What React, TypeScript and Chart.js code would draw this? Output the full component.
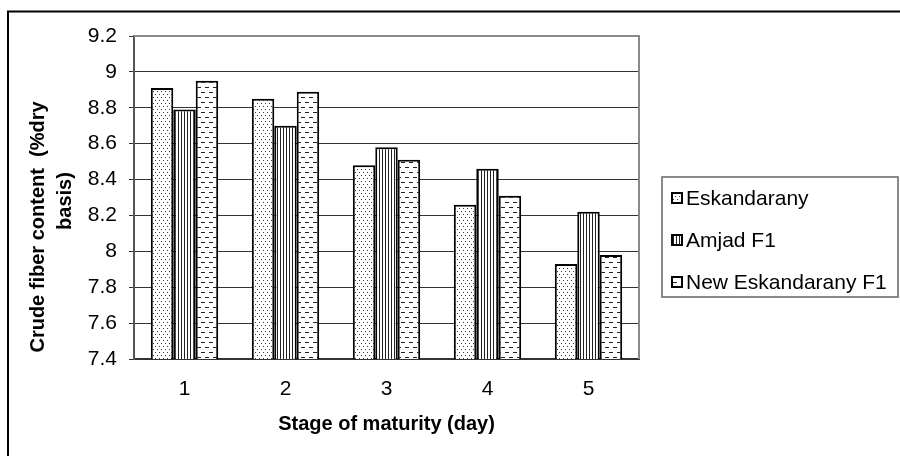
import React, { useEffect, useRef } from "react";
import { Chart, registerables } from "chart.js";

Chart.register(...registerables);

// Crude fiber content per maturity stage for three cultivars
const stages = ["1", "2", "3", "4", "5"];
const eskandarany = [8.91, 8.85, 8.48, 8.26, 7.93];
const amjadF1 = [8.79, 8.7, 8.58, 8.46, 8.22];
const newEskandaranyF1 = [8.95, 8.89, 8.51, 8.31, 7.98];
const seriesNames = ["Eskandarany", "Amjad F1", "New Eskandarany F1"];
const yTicks = [7.4, 7.6, 7.8, 8, 8.2, 8.4, 8.6, 8.8, 9, 9.2];
const yTitleLines = ["Crude fiber content  (%dry", "basis)"];
const xTitle = "Stage of maturity (day)";

const FONT = "'Liberation Sans', Arial, sans-serif";

function makePattern(w: number, h: number, draw: (g: CanvasRenderingContext2D) => void) {
  const c = document.createElement("canvas");
  c.width = w;
  c.height = h;
  const g = c.getContext("2d")!;
  g.fillStyle = "#ffffff";
  g.fillRect(0, 0, w, h);
  draw(g);
  return g.createPattern(c, "repeat")!;
}

export default function App() {
  const ref = useRef<HTMLCanvasElement | null>(null);

  useEffect(() => {
    const canvas = ref.current!;

    const dotFill = makePattern(4, 6, (g) => {
      g.fillStyle = "#3a3a3a";
      g.fillRect(1, 1, 1, 1);
      g.fillRect(3, 4, 1, 1);
    });
    const lineFill = makePattern(3, 1, (g) => {
      g.fillStyle = "#222222";
      g.fillRect(1, 0, 1, 1);
    });
    const dashFill = makePattern(8, 10, (g) => {
      g.fillStyle = "#222222";
      g.fillRect(1, 2, 4, 1);
      g.fillRect(5, 7, 3, 1);
      g.fillRect(0, 7, 1, 1);
    });
    const fills = [dotFill, lineFill, dashFill];

    const frame = {
      id: "frame",
      beforeDraw(chart: any) {
        const ctx = chart.ctx;
        ctx.save();
        ctx.fillStyle = "#ffffff";
        ctx.fillRect(0, 0, chart.width, chart.height);
        ctx.strokeStyle = "#000000";
        ctx.lineWidth = 2;
        ctx.beginPath();
        ctx.moveTo(8, chart.height);
        ctx.lineTo(8, 11.5);
        ctx.lineTo(chart.width, 11.5);
        ctx.stroke();
        ctx.restore();
      },
      afterDraw(chart: any) {
        const ctx = chart.ctx;
        const a = chart.chartArea;
        ctx.save();
        // plot area outline (top and right)
        ctx.strokeStyle = "#8a8a8a";
        ctx.lineWidth = 2;
        ctx.beginPath();
        ctx.moveTo(a.left, a.top);
        ctx.lineTo(a.right, a.top);
        ctx.lineTo(a.right, a.bottom);
        ctx.stroke();

        // axis titles
        ctx.fillStyle = "#000000";
        ctx.font = `bold 20px ${FONT}`;
        ctx.textAlign = "center";
        ctx.textBaseline = "middle";
        ctx.fillText(xTitle, (a.left + a.right) / 2, 424);
        ctx.save();
        ctx.translate(38, 227);
        ctx.rotate(-Math.PI / 2);
        ctx.fillText(yTitleLines[0], 0, 0);
        ctx.restore();
        ctx.save();
        ctx.translate(65, 201);
        ctx.rotate(-Math.PI / 2);
        ctx.fillText(yTitleLines[1], 0, 0);
        ctx.restore();

        // legend
        const lx = 662, ly = 177, lw = 236, lh = 120;
        ctx.strokeStyle = "#666666";
        ctx.lineWidth = 1.5;
        ctx.strokeRect(lx, ly, lw, lh);
        ctx.font = `21px ${FONT}`;
        ctx.textAlign = "left";
        chart.data.datasets.forEach((ds: any, i: number) => {
          const yc = 198 + 42 * i;
          ctx.fillStyle = fills[i];
          ctx.fillRect(672, yc - 5, 10, 10);
          ctx.strokeStyle = "#000000";
          ctx.lineWidth = 2;
          ctx.strokeRect(672, yc - 5, 10, 10);
          ctx.fillStyle = "#000000";
          ctx.fillText(ds.label, 686, yc + 1);
        });
        ctx.restore();
      },
    };

    const barStyle = (i: number) => ({
      backgroundColor: fills[i],
      borderColor: "#000000",
      borderWidth: 2,
      borderSkipped: false as const,
      categoryPercentage: 0.667,
      barPercentage: 1,
    });

    const chart = new Chart(canvas, {
      type: "bar",
      data: {
        labels: stages,
        datasets: [
          { label: seriesNames[0], data: eskandarany, ...barStyle(0) },
          { label: seriesNames[1], data: amjadF1, ...barStyle(1) },
          { label: seriesNames[2], data: newEskandaranyF1, ...barStyle(2) },
        ],
      },
      options: {
        responsive: false,
        animation: false,
        layout: { padding: { top: 36, right: 261, left: 0, bottom: 0 } },
        plugins: {
          legend: { display: false },
          tooltip: { enabled: false },
          title: { display: false },
        },
        scales: {
          x: {
            grid: { display: false },
            border: { display: true, color: "#333333", width: 2 },
            ticks: { color: "#000000", font: { family: FONT, size: 21 }, padding: 10 },
            afterFit(scale: any) {
              scale.height = 97;
            },
          },
          y: {
            min: 7.4,
            max: 9.2,
            afterBuildTicks(scale: any) {
              scale.ticks = yTicks.map((v) => ({ value: v }));
            },
            ticks: {
              color: "#000000",
              font: { family: FONT, size: 21 },
              padding: 12,
              callback: (v: any) => String(Number(Number(v).toFixed(1))),
            },
            grid: { color: "#333333", lineWidth: 1, tickLength: 5, drawTicks: true },
            border: { display: true, color: "#555555", width: 2 },
            afterFit(scale: any) {
              scale.width = 134;
            },
          },
        },
      },
      plugins: [frame],
    });

    return () => chart.destroy();
  }, []);

  return (
    <div style={{ position: "fixed", left: 0, top: 0, width: 900, height: 456, background: "#fff" }}>
      <canvas ref={ref} width={900} height={456} style={{ width: 900, height: 456, display: "block" }} />
    </div>
  );
}
